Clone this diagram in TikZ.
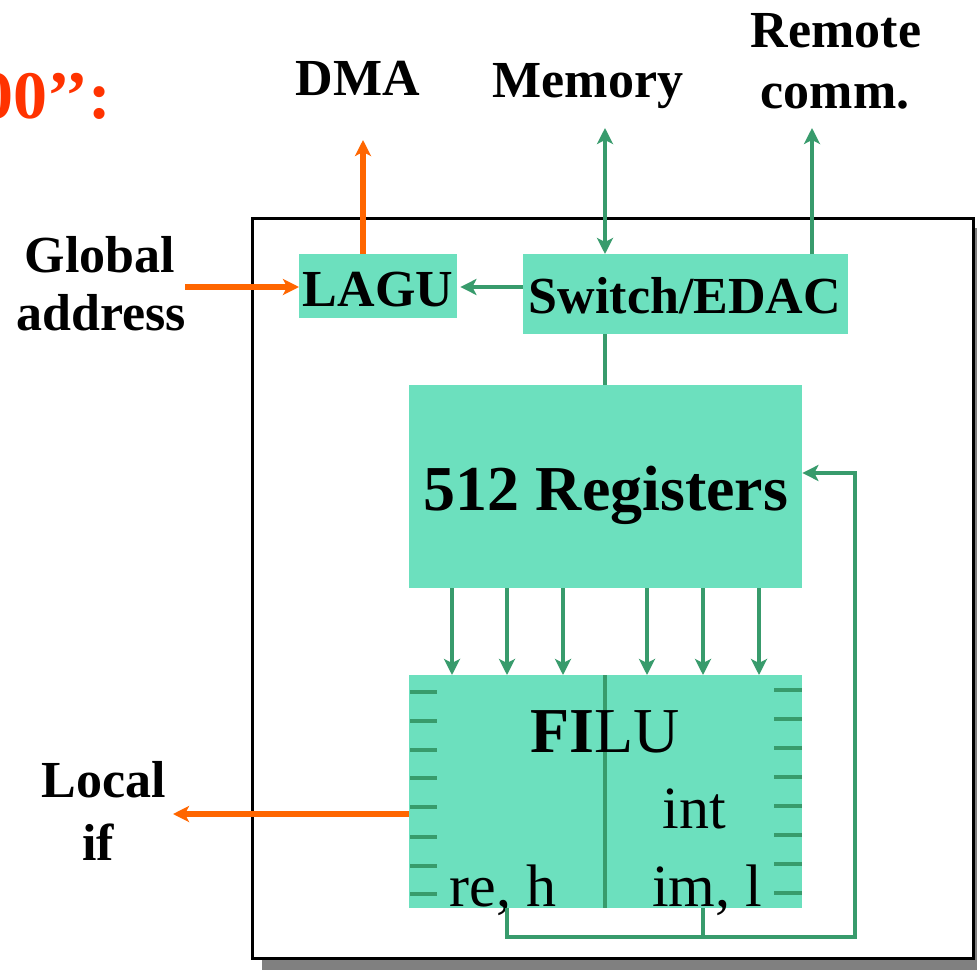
\documentclass[tikz,border=0pt]{standalone}
\usepackage{fontspec}
\setmainfont{Liberation Serif}
\usetikzlibrary{arrows.meta}
\definecolor{boxfill}{RGB}{108,224,190}
\definecolor{linegreen}{RGB}{56,155,108}
\definecolor{sigorange}{RGB}{255,102,0}
\definecolor{titlered}{RGB}{255,51,0}
\definecolor{shadowgrey}{RGB}{128,128,128}

\begin{document}
\begin{tikzpicture}[x=1pt,y=-1pt,
  unitbox/.style={fill=boxfill, draw=none, inner sep=0pt, anchor=north west},
  lbl/.style={inner sep=0pt, anchor=base, font=\fontsize{52}{60}\selectfont\bfseries},
  biglbl/.style={inner sep=0pt, anchor=base, font=\fontsize{64}{72}\selectfont\bfseries},
  sublbl/.style={inner sep=0pt, anchor=base, font=\fontsize{60}{68}\selectfont},
  tip/.style={-{Stealth[length=16pt,width=16pt,inset=4pt]}},
  dtip/.style={{Stealth[length=16pt,width=16pt,inset=4pt]}-{Stealth[length=16pt,width=16pt,inset=4pt]}},
  gline/.style={draw=linegreen, line width=4.6pt},
  oline/.style={draw=sigorange, line width=5.4pt},
  tick/.style={draw=linegreen, line width=3.4pt}]

\useasboundingbox (0,0) rectangle (977,969);

% chip outline with drop shadow
\fill[shadowgrey] (262,228) rectangle (987,972);
\draw[line width=3pt, fill=white] (252,218) rectangle (973,958);

% title fragment
\node[inner sep=0pt, anchor=base east, text=titlered,
      font=\fontsize{68}{76}\selectfont\bfseries] (title) at (111,118) {00’’:};

% functional blocks
\node[unitbox, minimum width=158pt, minimum height=64pt] (lagu) at (299,254) {};
\node[unitbox, minimum width=325pt, minimum height=80pt] (sw) at (523,254) {};
\node[unitbox, minimum width=393pt, minimum height=203pt] (reg) at (409,385) {};
\node[unitbox, minimum width=393pt, minimum height=233pt] (filu) at (409,675) {};

\node[lbl] (laguT) at (378,306) {LAGU};
\node[lbl] (swT) at (685,313) {Switch/EDAC};
\node[biglbl] (regT) at (606,510) {512 Registers};

% FILU interior: divider, port ticks, labels
\draw[tick] (605,675) -- (605,908);
\foreach \y in {692,721,750,778,807,837,866,894}
  \draw[tick] (410,\y) -- (437,\y);
\foreach \y in {690,719,748,777,806,835,864,893}
  \draw[tick] (774,\y) -- (802,\y);
\node[inner sep=0pt, anchor=base west] (filuT) at (530,752)
  {\fontsize{64}{72}\selectfont\bfseries FI\mdseries LU};
\node[sublbl] (intT) at (694,828) {int};
\node[sublbl] (reT) at (503,906) {re, h};
\node[sublbl] (imT) at (707,906) {im, l};

% outside labels
\node[lbl] (dmaT) at (358,95) {DMA};
\node[lbl] (memT) at (588,97) {Memory};
\node[lbl] (remT) at (836,47) {Remote};
\node[lbl] (commT) at (835,108) {comm.};
\node[lbl] (globT) at (100,272) {Global};
\node[lbl] (addrT) at (101,330) {address};
\node[lbl] (locT) at (104,797) {Local};
\node[lbl] (ifT) at (98,860) {if};

% connector end points
\coordinate (dmaEnd) at (363,140);
\coordinate (memEnd) at (605,128);
\coordinate (remEnd) at (812,128);
\coordinate (globEnd) at (185,287);
\coordinate (locEnd) at (173,814);
\coordinate (regIn) at (855,473);
\coordinate (fbL) at (507,937);
\coordinate (fbM) at (703,937);
\coordinate (fbR) at (855,937);

% external connections
\draw[oline, tip] (dmaEnd |- lagu.north) -- (dmaEnd);
\draw[gline, dtip] (memEnd) -- (memEnd |- sw.north);
\draw[gline, tip] (remEnd |- sw.north) -- (remEnd);
\draw[oline, tip] (globEnd) -- (globEnd -| lagu.west);
\draw[gline, tip, shorten >=3pt] (sw.west |- globEnd) -- (lagu.east |- globEnd);
\draw[oline, tip] (filu.west |- locEnd) -- (locEnd);

% switch to register file
\draw[gline] (memEnd |- sw.south) -- (memEnd |- reg.north);

% register read ports into FILU
\foreach \x [count=\i] in {452,507,563,647,703,759} {
  \coordinate (port\i) at (\x,600);
  \draw[gline, tip] (port\i |- reg.south) -- (port\i |- filu.north);
}

% result write-back
\draw[gline, tip] (fbL |- filu.south) -- (fbL) -- (fbR) -- (regIn) -- (reg.east |- regIn);
\draw[gline] (fbM |- filu.south) -- (fbM);

\end{tikzpicture}
\end{document}
